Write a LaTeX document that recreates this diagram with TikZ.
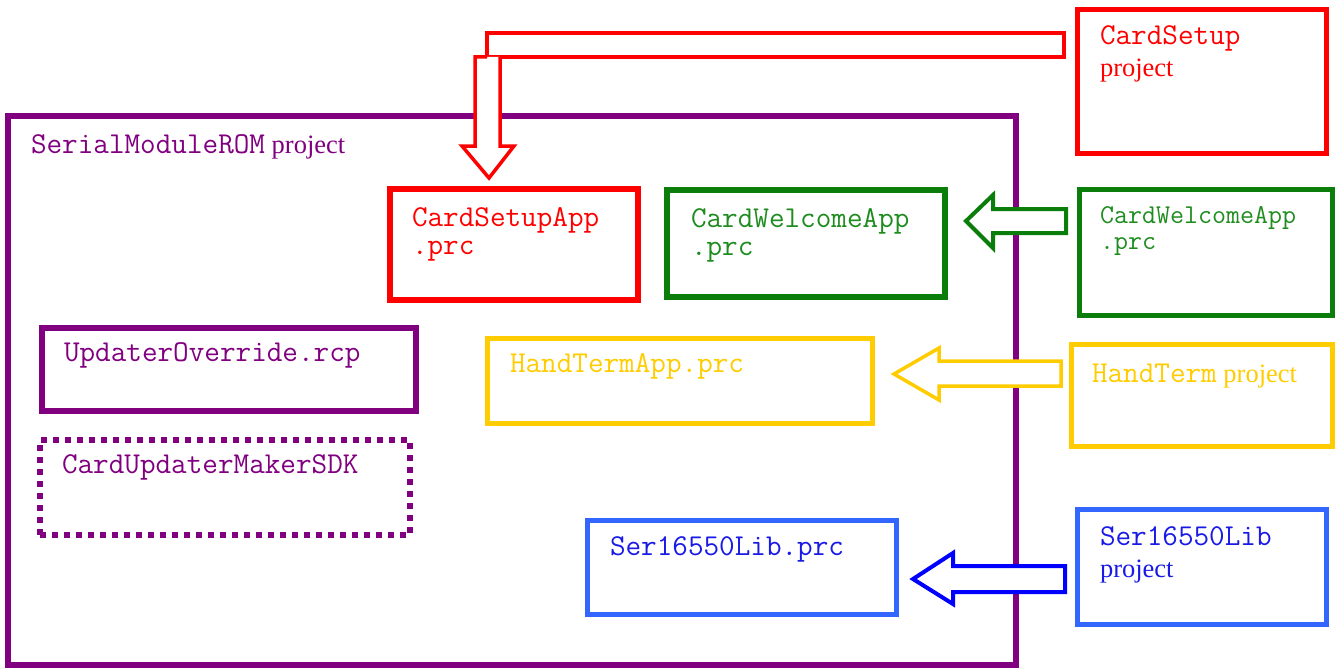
\documentclass[tikz,border=0pt]{standalone}
\usepackage{fontspec}
\setmainfont{Liberation Serif}
\definecolor{pur}{HTML}{800080}
\definecolor{cred}{HTML}{FF0000}
\definecolor{cgreen}{HTML}{0A7D0A}
\definecolor{cgreentxt}{HTML}{1E8C1E}
\definecolor{cyellow}{HTML}{FFCC00}
\definecolor{cblue}{HTML}{3366FF}
\definecolor{cbluedark}{HTML}{0000FF}
\definecolor{cbluetxt}{HTML}{1A1AE6}
\tikzset{
  box/.style={draw, inner sep=0pt, outer sep=0pt, anchor=north west},
  txt/.style={anchor=base west, inner sep=0pt, outer sep=0pt,
              font=\ttfamily\fontsize{30.3}{34}\selectfont},
  txtsmall/.style={txt, font=\ttfamily\fontsize{27.2}{31}\selectfont},
  blockarrow/.style={draw=#1, fill=white, line width=4pt, line join=miter},
}
% serif word set after the monospaced names; the space is the serif one
\newcommand\prj{{\rmfamily\fontsize{26.5}{30}\selectfont\ project}}
\newcommand\prjonly{{\rmfamily\fontsize{26.5}{30}\selectfont project}}
\begin{document}
\begin{tikzpicture}[x=1pt, y=-1pt]
\useasboundingbox (0,0) rectangle (1337,669);

% main project frame
\node[box, pur, line width=6pt, minimum width=1008.5pt, minimum height=549.5pt] (rom) at (7.5,115.5) {};
\node[txt, pur] (romlbl) at (31,153) {SerialModuleROM\prj};

% contents of the ROM project
\node[box, cred, line width=6pt, minimum width=248.5pt, minimum height=111pt] (setupApp) at (389.5,189) {};
\node[txt, cred] (setupAppA) at (412,226) {CardSetupApp};
\node[txt, cred] (setupAppB) at (412,254) {.prc};

\node[box, cgreen, line width=6pt, minimum width=278pt, minimum height=107pt] (welcomeApp) at (667,190) {};
\node[txt, cgreentxt] (welcomeAppA) at (691,227) {CardWelcomeApp};
\node[txt, cgreentxt] (welcomeAppB) at (691,255) {.prc};

\node[box, pur, line width=6pt, minimum width=374pt, minimum height=83pt] (updater) at (41.5,328) {};
\node[txt, pur] (updaterlbl) at (64,361) {UpdaterOverride.rcp};

\node[box, pur, line width=6pt, dash pattern=on 6pt off 6pt, minimum width=370pt, minimum height=95pt] (sdk) at (40,440) {};
\node[txt, pur] (sdklbl) at (62,473) {CardUpdaterMakerSDK};

\node[box, cyellow, line width=5pt, minimum width=385pt, minimum height=85pt] (handApp) at (487,338) {};
\node[txt, cyellow] (handApplbl) at (510,372) {HandTermApp.prc};

\node[box, cblue, line width=5pt, minimum width=309pt, minimum height=94pt] (serApp) at (587,520) {};
\node[txt, cbluetxt] (serApplbl) at (610,555) {Ser16550Lib.prc};

% source projects
\node[box, cred, line width=5pt, minimum width=249pt, minimum height=143pt] (setupPrj) at (1077,10) {};
\node[txt, cred] (setupPrjA) at (1100,45) {CardSetup};
\node[txt, cred] (setupPrjB) at (1100,77) {\prjonly};

\node[box, cgreen, line width=5pt, minimum width=253pt, minimum height=125.5pt] (welcomePrj) at (1079,189.5) {};
\node[txtsmall, cgreentxt] (welcomePrjA) at (1100,223) {CardWelcomeApp};
\node[txtsmall, cgreentxt] (welcomePrjB) at (1100,249) {.prc};

\node[box, cyellow, line width=5pt, minimum width=261pt, minimum height=102pt] (handPrj) at (1071,344) {};
\node[txt, cyellow] (handPrjlbl) at (1092,382) {HandTerm\prj};

\node[box, cblue, line width=5pt, minimum width=249pt, minimum height=115pt] (serPrj) at (1077,509) {};
\node[txt, cbluetxt] (serPrjA) at (1100,545) {Ser16550Lib};
\node[txt, cbluetxt] (serPrjB) at (1100,577) {\prjonly};

% block arrows from each project into the ROM
\draw[blockarrow=cred, line width=3.5pt] (1064,33) -- (487,33) -- (487,57) -- (1064,57) -- cycle;
\draw[blockarrow=cred, line width=3.5pt] (487,57) -- (475,57) -- (475,146) -- (462,146) -- (489,178)
      -- (514,146) -- (500,146) -- (500,57);

\draw[blockarrow=cgreen] (1066,209) -- (993,209) -- (993,195) -- (966,221) -- (993,248)
      -- (993,233) -- (1066,233) -- cycle;

\draw[blockarrow=cyellow, line width=3.5pt] (1061,361) -- (939,361) -- (939,348) -- (894,374) -- (939,400)
      -- (939,386) -- (1061,386) -- cycle;

\draw[blockarrow=cbluedark] (1065,566) -- (953,566) -- (953,553) -- (913,579) -- (953,604)
      -- (953,592) -- (1065,592) -- cycle;
\end{tikzpicture}
\end{document}
